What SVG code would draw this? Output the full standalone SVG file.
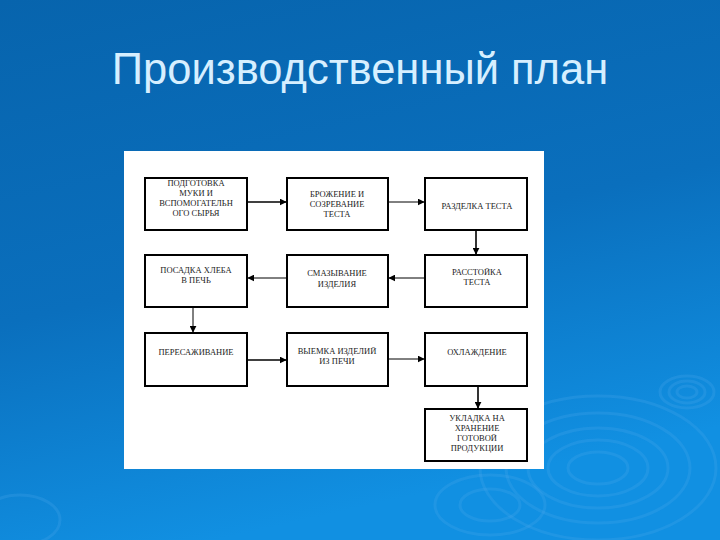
<svg xmlns="http://www.w3.org/2000/svg" width="720" height="540" viewBox="0 0 720 540">
<defs>
<linearGradient id="bg" x1="0" y1="0" x2="0.3" y2="1">
<stop offset="0" stop-color="#0764ad"/>
<stop offset="0.55" stop-color="#0a6fbd"/>
<stop offset="1" stop-color="#1190e2"/>
</linearGradient>
<marker id="ah" viewBox="0 0 10 10" refX="9" refY="5" markerWidth="7" markerHeight="7" markerUnits="userSpaceOnUse" orient="auto">
<path d="M0,0 L10,5 L0,10 Z" fill="#000"/>
</marker>
<style>
.box{fill:#fff;stroke:#000;stroke-width:2}
.t{font-family:"Liberation Serif","Times New Roman",serif;font-size:8.5px;fill:#222;text-anchor:middle}
.c{stroke:#000;stroke-width:1.6;fill:none;marker-end:url(#ah)}
.c2{stroke:#000;stroke-width:1;fill:none;marker-end:url(#ah)}
.rp{fill:none;stroke:#4aa8ea;stroke-opacity:0.25;stroke-width:3}
</style>
</defs>
<rect width="720" height="540" fill="url(#bg)"/>
<g id="ripples">
<ellipse class="rp" cx="598" cy="468" rx="30" ry="16"/>
<ellipse class="rp" cx="598" cy="468" rx="50" ry="28"/>
<ellipse class="rp" cx="598" cy="468" rx="70" ry="40"/>
<ellipse class="rp" cx="598" cy="468" rx="92" ry="55"/>
<ellipse class="rp" cx="598" cy="468" rx="118" ry="72" stroke-opacity="0.15"/>
<ellipse class="rp" cx="687" cy="392" rx="10" ry="6"/>
<ellipse class="rp" cx="687" cy="392" rx="18" ry="11"/>
<ellipse class="rp" cx="687" cy="392" rx="27" ry="16"/>
<ellipse class="rp" cx="490" cy="505" rx="30" ry="16" stroke-opacity="0.15"/>
<ellipse class="rp" cx="490" cy="505" rx="55" ry="30" stroke-opacity="0.15"/>
<ellipse class="rp" cx="20" cy="520" rx="40" ry="25" stroke-opacity="0.1"/>
</g>
<text x="360" y="84" font-family="Liberation Sans, Arial, sans-serif" font-size="43.5" fill="#d6efff" text-anchor="middle">Производственный план</text>
<rect x="124" y="151" width="420" height="318" fill="#fff"/>
<g id="n1"><rect class="box" x="145" y="178" width="102" height="52"/>
<text class="t" y="186"><tspan x="196">ПОДГОТОВКА</tspan><tspan x="196" dy="10">МУКИ И</tspan><tspan x="196" dy="10">ВСПОМОГАТЕЛЬН</tspan><tspan x="196" dy="10">ОГО СЫРЬЯ</tspan></text></g>
<g id="n2"><rect class="box" x="287" y="178" width="101" height="52"/>
<text class="t" y="197"><tspan x="337">БРОЖЕНИЕ И</tspan><tspan x="337" dy="10">СОЗРЕВАНИЕ</tspan><tspan x="337" dy="10">ТЕСТА</tspan></text></g>
<g id="n3"><rect class="box" x="425" y="178" width="102" height="52"/>
<text class="t" x="477" y="209">РАЗДЕЛКА ТЕСТА</text></g>
<g id="n4"><rect class="box" x="425" y="255" width="102" height="52"/>
<text class="t" y="275"><tspan x="477">РАССТОЙКА</tspan><tspan x="477" dy="10">ТЕСТА</tspan></text></g>
<g id="n5"><rect class="box" x="287" y="255" width="101" height="52"/>
<text class="t" y="276"><tspan x="337">СМАЗЫВАНИЕ</tspan><tspan x="337" dy="11">ИЗДЕЛИЯ</tspan></text></g>
<g id="n6"><rect class="box" x="145" y="255" width="102" height="52"/>
<text class="t" y="273"><tspan x="196">ПОСАДКА ХЛЕБА</tspan><tspan x="196" dy="10">В ПЕЧЬ</tspan></text></g>
<g id="n7"><rect class="box" x="145" y="333" width="102" height="53"/>
<text class="t" x="196" y="355">ПЕРЕСАЖИВАНИЕ</text></g>
<g id="n8"><rect class="box" x="287" y="333" width="101" height="53"/>
<text class="t" y="354"><tspan x="337">ВЫЕМКА ИЗДЕЛИЙ</tspan><tspan x="337" dy="10">ИЗ ПЕЧИ</tspan></text></g>
<g id="n9"><rect class="box" x="425" y="333" width="102" height="53"/>
<text class="t" x="477" y="355">ОХЛАЖДЕНИЕ</text></g>
<g id="n10"><rect class="box" x="425" y="409" width="102" height="52"/>
<text class="t" y="421"><tspan x="477">УКЛАДКА НА</tspan><tspan x="477" dy="10">ХРАНЕНИЕ</tspan><tspan x="477" dy="10">ГОТОВОЙ</tspan><tspan x="477" dy="10">ПРОДУКЦИИ</tspan></text></g>
<g id="connectors">
<line class="c" x1="247" y1="202" x2="286" y2="202"/>
<line class="c2" x1="388" y1="202" x2="424" y2="202"/>
<line class="c" x1="476" y1="230" x2="476" y2="254"/>
<line class="c2" x1="425" y1="278" x2="389" y2="278"/>
<line class="c2" x1="287" y1="278" x2="248" y2="278"/>
<line class="c2" x1="193" y1="307" x2="193" y2="332"/>
<line class="c" x1="247" y1="360" x2="286" y2="360"/>
<line class="c2" x1="388" y1="359" x2="424" y2="359"/>
<line class="c" x1="478" y1="386" x2="478" y2="408"/>
</g>
</svg>
